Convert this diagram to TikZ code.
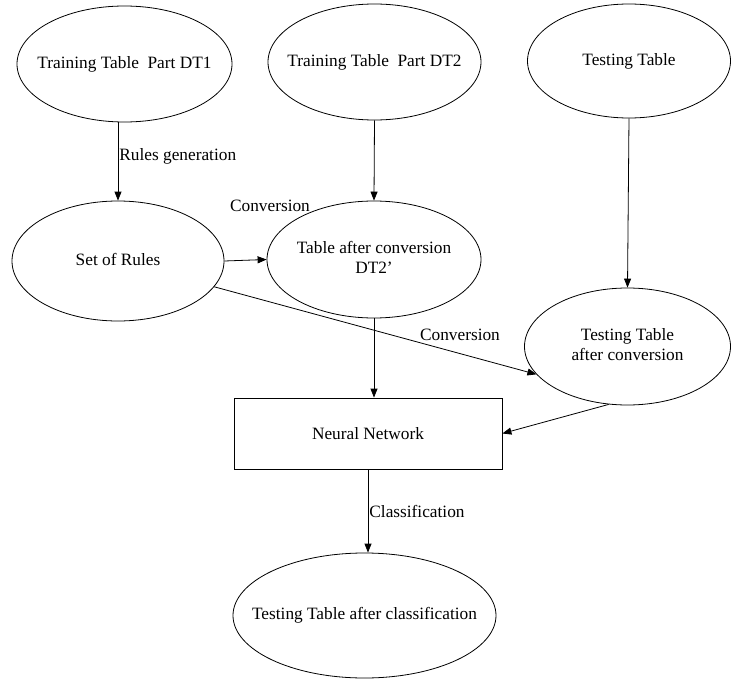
\documentclass[tikz,border=0pt]{standalone}
\usepackage{fontspec}
\setmainfont{Liberation Serif}
\usetikzlibrary{arrows.meta,positioning,shapes.geometric}
% text that does not widen its ellipse
\newcommand{\ovaltext}[1]{\makebox[0pt]{\begin{tabular}{@{}c@{}}#1\end{tabular}}}
\tikzset{
 oval/.style={ellipse,draw,inner sep=0pt,align=center},
 box/.style={rectangle,draw,inner sep=0pt,align=center},
 arr/.style={-{Triangle[length=9pt,width=7pt]}},
 lbl/.style={inner sep=1pt}
}

\begin{document}
\begin{tikzpicture}[x=1pt,y=-1pt,line width=0.8pt,font=\fontsize{17.3}{20}\selectfont]
\useasboundingbox (0,0) rectangle (732,680);
% top row: the three tables
\node[oval,minimum width=215pt,minimum height=116pt] (dt1) at (124.5,64) {\ovaltext{Training Table\ \ Part DT1}};
\node[oval,minimum width=213pt,minimum height=116pt] (dt2) at (374.5,62) {\ovaltext{Training Table\ \ Part DT2}};
\node[oval,minimum width=203pt,minimum height=114pt] (test) at (629,61) {\ovaltext{Testing Table}};
% second row
\node[oval,minimum width=212pt,minimum height=120pt] (rules) at (118,261) {\ovaltext{Set of Rules}};
\node[oval,minimum width=214pt,minimum height=117pt] (dtconv) at (374,259.5) {\ovaltext{Table after conversion\\DT2'}};
\node[oval,minimum width=206pt,minimum height=117pt] (testconv) at (627.5,346.5) {\ovaltext{Testing Table\\after conversion}};
% network and result
\node[box,minimum width=268pt,minimum height=71pt] (nn) at (368,433.5) {Neural Network};
\node[oval,minimum width=263pt,minimum height=125pt] (cls) at (364.5,615.5) {\ovaltext{Testing Table after classification}};
% connectors
\draw[arr] (rules.north |- dt1.south) -- (rules.north)
 node[lbl,right,pos=0.43] (gen) {Rules generation};
\draw[arr] (dt2.south) -- (dtconv.north);
\draw[arr] (test.south) -- (testconv.north);
\draw[arr] (rules.east) -- (dtconv.west);
\node[lbl] (conv1) at (270,206) {Conversion};
\draw[arr] (rules.-15) -- (testconv.-163);
\node[lbl] (conv2) at (460,335) {Conversion};
\draw[arr] (dtconv.south) -- (dtconv.south |- nn.north);
\draw[arr] (testconv.-108) -- (nn.east);
\draw[arr] (nn.south) -- (nn.south |- cls.north)
 node[lbl,right,midway] (clf) {Classification};
\end{tikzpicture}
\end{document}
